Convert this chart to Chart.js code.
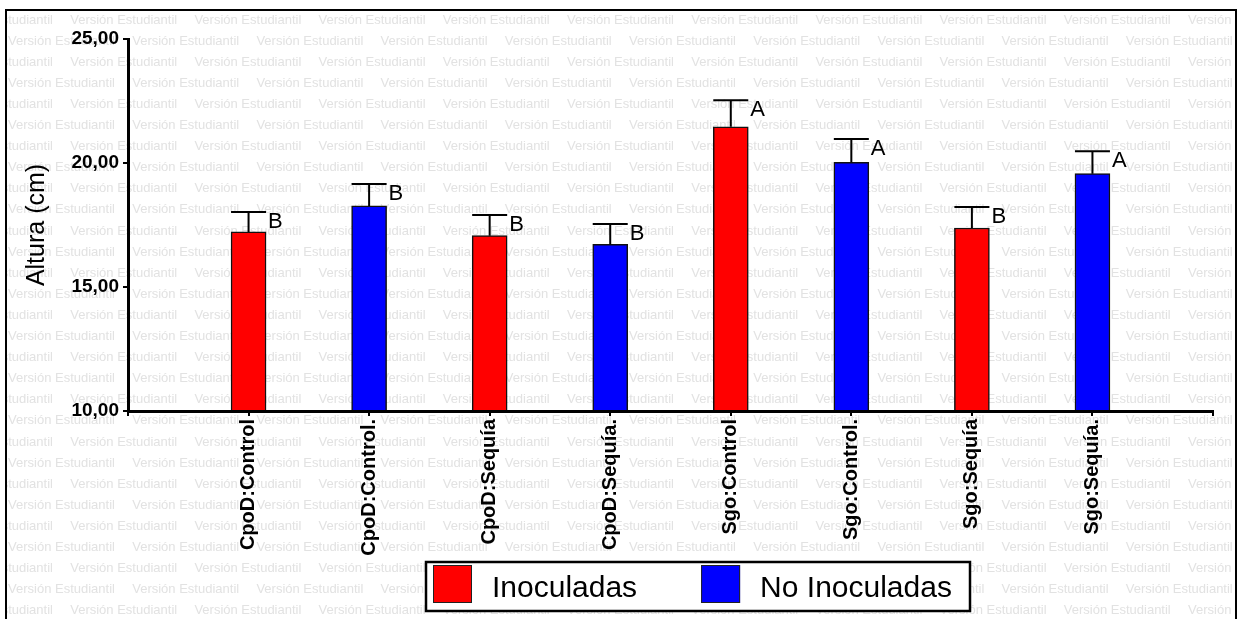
<!DOCTYPE html>
<html>
<head>
<meta charset="utf-8">
<script src="https://cdn.jsdelivr.net/npm/chart.js@4.4.1/dist/chart.umd.min.js"></script>
<style>
  html, body { margin: 0; padding: 0; background: #fff; }
  canvas { display: block; }
</style>
</head>
<body>
<canvas id="c" width="1241" height="619"></canvas>
<script>
// ---- data ----
const categories = ['CpoD:Control', 'CpoD:Control.', 'CpoD:Sequía', 'CpoD:Sequía.',
                    'Sgo:Control', 'Sgo:Control.', 'Sgo:Sequía', 'Sgo:Sequía.'];
const seriesNames = ['Inoculadas', 'No Inoculadas'];
const seriesColors = ['#ff0000', '#0000ff'];
const seriesOfCategory = [0, 1, 0, 1, 0, 1, 0, 1];
const means = [17.22, 18.27, 17.07, 16.72, 21.46, 20.03, 17.38, 19.57];
const errors = [0.80, 0.88, 0.83, 0.82, 1.07, 0.94, 0.85, 0.90];
const letters = ['B', 'B', 'B', 'B', 'A', 'A', 'B', 'A'];
const yMin = 10, yMax = 25, yStep = 5;
const yTitle = 'Altura (cm)';
const watermarkText = 'Versión Estudiantil';

const FONT = '"Liberation Sans", Arial, sans-serif';
Chart.defaults.font.family = FONT;
Chart.defaults.color = '#000';

// labels padded with an empty slot at each end (axis spans 0..9)
const labels = [''].concat(categories, ['']);
const datasets = seriesNames.map((name, s) => ({
  label: name,
  data: [null].concat(means.map((v, i) => seriesOfCategory[i] === s ? v : null), [null]),
  backgroundColor: seriesColors[s],
  borderColor: '#111',
  borderWidth: 1.5,
  barThickness: 35,
  grouped: false,
  base: yMin
}));

const backgroundPlugin = {
  id: 'bg',
  beforeDraw(chart) {
    const ctx = chart.ctx;
    ctx.save();
    ctx.fillStyle = '#fff';
    ctx.fillRect(0, 0, chart.width, chart.height);
    ctx.beginPath();
    ctx.rect(7, 11, 1228, chart.height);
    ctx.clip();
    ctx.font = '13px ' + FONT;
    ctx.fillStyle = '#e2e2e2';
    ctx.textBaseline = 'middle';
    ctx.textAlign = 'left';
    for (let r = 0; ; r++) {
      const y = 20 + r * 21.1;
      if (y > chart.height + 10) break;
      const start = r % 2 === 0 ? -54 : 8;
      for (let x = start; x < chart.width; x += 124.2) {
        ctx.fillText(watermarkText, x, y);
      }
    }
    ctx.restore();
  }
};

const errorPlugin = {
  id: 'errbars',
  afterDatasetsDraw(chart) {
    const ctx = chart.ctx;
    const yScale = chart.scales.y;
    ctx.save();
    ctx.strokeStyle = '#000';
    ctx.lineWidth = 2;
    ctx.fillStyle = '#000';
    ctx.font = '22px ' + FONT;
    ctx.textBaseline = 'alphabetic';
    ctx.textAlign = 'left';
    chart.data.datasets.forEach((ds, di) => {
      const meta = chart.getDatasetMeta(di);
      meta.data.forEach((bar, j) => {
        const v = ds.data[j];
        if (v === null || v === undefined) return;
        const i = j - 1;
        const topY = yScale.getPixelForValue(v);
        const capY = yScale.getPixelForValue(v + errors[i]);
        const half = bar.width / 2;
        ctx.beginPath();
        ctx.moveTo(bar.x, topY);
        ctx.lineTo(bar.x, capY);
        ctx.moveTo(bar.x - half, capY);
        ctx.lineTo(bar.x + half, capY);
        ctx.stroke();
        ctx.fillText(letters[i], bar.x + half + 2, capY + 16);
      });
    });
    ctx.restore();
  }
};

const legendBorderPlugin = {
  id: 'legendAndFrame',
  afterDraw(chart) {
    const ctx = chart.ctx;
    ctx.save();
    // legend box
    ctx.fillStyle = '#fff';
    ctx.fillRect(426, 562, 544, 49);
    ctx.strokeStyle = '#000';
    ctx.lineWidth = 2.5;
    ctx.strokeRect(426, 562, 544, 49);
    ctx.font = '30px ' + FONT;
    ctx.textBaseline = 'alphabetic';
    ctx.textAlign = 'left';
    let x = 433;
    chart.data.datasets.forEach(ds => {
      ctx.fillStyle = ds.backgroundColor;
      ctx.fillRect(x, 565, 39, 38);
      ctx.strokeStyle = '#222';
      ctx.lineWidth = 1;
      ctx.strokeRect(x + 0.5, 565.5, 38, 37);
      ctx.fillStyle = '#000';
      const tx = x + 59;
      ctx.fillText(ds.label, tx, 597);
      x = tx + ctx.measureText(ds.label).width + 64;
    });
    // outer frame
    ctx.strokeStyle = '#000';
    ctx.lineWidth = 2;
    ctx.strokeRect(6, 10, 1230, 640);
    ctx.restore();
  }
};

new Chart(document.getElementById('c'), {
  type: 'bar',
  data: { labels, datasets },
  options: {
    responsive: false,
    animation: false,
    devicePixelRatio: 1,
    layout: { padding: { top: 39, right: 28, left: 0, bottom: 0 } },
    plugins: { legend: { display: false }, tooltip: { enabled: false } },
    scales: {
      x: {
        type: 'category',
        offset: false,
        grid: { display: true, drawOnChartArea: false, offset: false, color: '#000', lineWidth: 2, tickLength: 5 },
        border: { display: true, color: '#000', width: 3 },
        ticks: {
          autoSkip: false,
          minRotation: 90,
          maxRotation: 90,
          padding: 3,
          color: '#000',
          font: { size: 20, weight: 'bold' }
        },
        afterFit(scale) { scale.height = 208; }
      },
      y: {
        min: yMin,
        max: yMax,
        grid: { display: true, drawOnChartArea: false, color: '#000', lineWidth: 2, tickLength: 5 },
        border: { display: true, color: '#000', width: 3 },
        ticks: {
          stepSize: yStep,
          padding: 4,
          color: '#000',
          font: { size: 19, weight: 'bold' },
          callback: v => v.toFixed(2).replace('.', ',')
        },
        title: {
          display: true,
          text: yTitle,
          color: '#000',
          font: { size: 25, weight: 'normal' },
          padding: { top: 22, bottom: 0 }
        },
        afterFit(scale) { scale.width = 128; }
      }
    }
  },
  plugins: [backgroundPlugin, errorPlugin, legendBorderPlugin]
});
</script>
</body>
</html>
